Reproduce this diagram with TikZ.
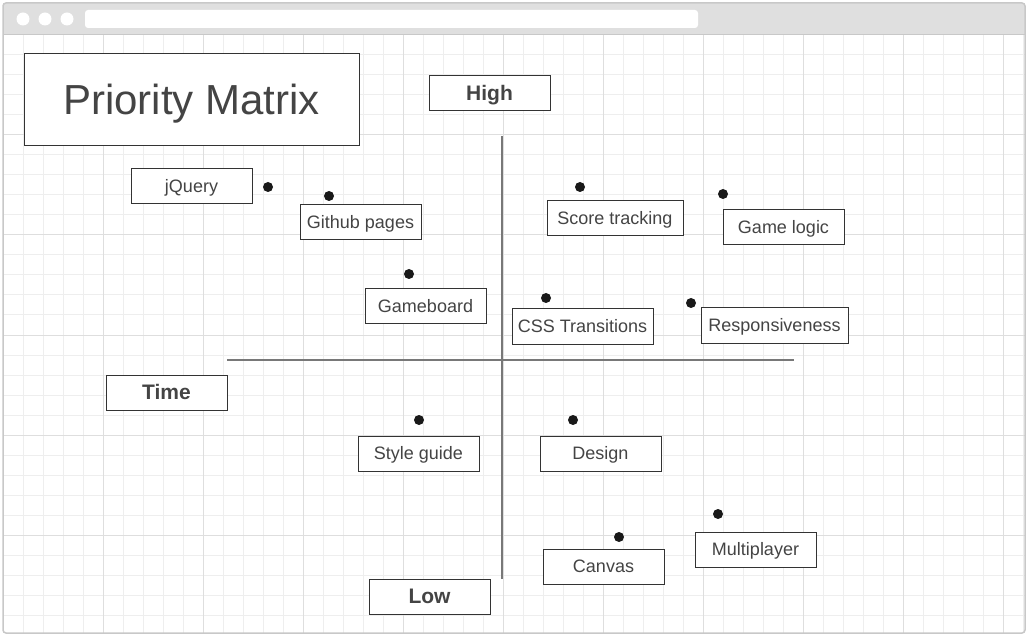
\documentclass[tikz,border=0pt]{standalone}
\usepackage{fontspec}
\setmainfont{Liberation Sans}
\usepackage{tikz}
\usetikzlibrary{positioning}
\definecolor{framegrey}{RGB}{200,200,200}
\definecolor{bargrey}{RGB}{223,223,223}
\definecolor{gridminor}{RGB}{238,238,238}
\definecolor{gridmajor}{RGB}{222,222,222}
\definecolor{textgrey}{RGB}{68,68,68}
\definecolor{boxgrey}{RGB}{51,51,51}
\definecolor{axisgrey}{RGB}{120,120,120}

\tikzset{
    labelbox/.style={draw=boxgrey, line width=1pt, fill=white, text=textgrey,
        minimum width=121, minimum height=35, inner sep=0pt,
        text height=16.2pt, text depth=3.6pt,
        font=\fontsize{18}{22}\selectfont},
    axislabel/.style={labelbox, text height=18.9pt, text depth=4.2pt,
        font=\fontsize{21}{25}\selectfont\bfseries},
    itemdot/.style={circle, fill=black!90, inner sep=0pt, minimum size=10},
    axisline/.style={draw=axisgrey, line width=2pt}
}

\begin{document}
\begin{tikzpicture}[x=1pt, y=-1pt]
    \useasboundingbox (0,0) rectangle (1028,636);
    % browser window
    \fill[white] (0,0) rectangle (1028,636);
    \fill[bargrey] (3,3) rectangle (1025,35);
    \foreach \cx in {23,45,67}
        \fill[white] (\cx,19) circle (6.5);
    \fill[white, rounded corners=3] (85,10) rectangle (698,28);
    % grid
    \foreach \gx in {3,23,...,1023}
        \draw[gridminor, line width=1pt] (\gx,35) -- (\gx,633);
    \foreach \gy in {35,55,...,633}
        \draw[gridminor, line width=1pt] (3,\gy) -- (1025,\gy);
    \foreach \gx in {103,203,...,1003}
        \draw[gridmajor, line width=1pt] (\gx,35) -- (\gx,633);
    \foreach \gy in {135,235,...,535}
        \draw[gridmajor, line width=1pt] (3,\gy) -- (1025,\gy);
    \draw[framegrey, line width=1.5pt, rounded corners=3] (3,3) rectangle (1025,633);
    \draw[framegrey, line width=1pt] (3,35) -- (1025,35);

    % axes
    \coordinate (vtop) at (502,136);
    \coordinate (vbot) at (502,579);
    \coordinate (hleft) at (227,360);
    \coordinate (hright) at (794,360);
    \draw[axisline] (vtop) -- (vbot);
    \draw[axisline] (hleft) -- (hright);

    % title and axis labels
    \node[labelbox, minimum width=335, minimum height=92,
          text height=37.8pt, text depth=8.4pt,
          font=\fontsize{42}{50}\selectfont] (title) at (191.5,100) {Priority Matrix};
    \node[axislabel] (high) at (489.5,93.5) {High};
    \node[axislabel] (time) at (166.5,392.5) {Time};
    \node[axislabel] (low) at (429.5,596.5) {Low};

    % items
    \node[labelbox] (jquery) at (191.5,186.5) {jQuery};
    \node[labelbox] (github) at (360.5,222.5) {Github pages};
    \node[labelbox] (gameboard) at (425.5,306.5) {Gameboard};
    \node[labelbox, minimum width=136] (score) at (615,218.5) {Score tracking};
    \node[labelbox] (gamelogic) at (783.5,227.5) {Game logic};
    \node[labelbox, minimum width=141] (css) at (582.5,326.5) {CSS Transitions};
    \node[labelbox, minimum width=147] (resp) at (774.5,325.5) {Responsiveness};
    \node[labelbox] (style) at (418.5,453.5) {Style guide};
    \node[labelbox] (design) at (600.5,453.5) {Design};
    \node[labelbox] (canvas) at (603.5,566.5) {Canvas};
    \node[labelbox] (multi) at (755.5,549.5) {Multiplayer};

    % dots
    \node[itemdot] (d-jquery) at (268,187) {};
    \node[itemdot] (d-github) at (329,196) {};
    \node[itemdot] (d-gameboard) at (409,274) {};
    \node[itemdot] (d-score) at (580,187) {};
    \node[itemdot] (d-gamelogic) at (723,194) {};
    \node[itemdot] (d-css) at (546,298) {};
    \node[itemdot] (d-resp) at (691,303) {};
    \node[itemdot] (d-style) at (419,420) {};
    \node[itemdot] (d-design) at (573,420) {};
    \node[itemdot] (d-canvas) at (619,537) {};
    \node[itemdot] (d-multi) at (718,514) {};
\end{tikzpicture}
\end{document}
